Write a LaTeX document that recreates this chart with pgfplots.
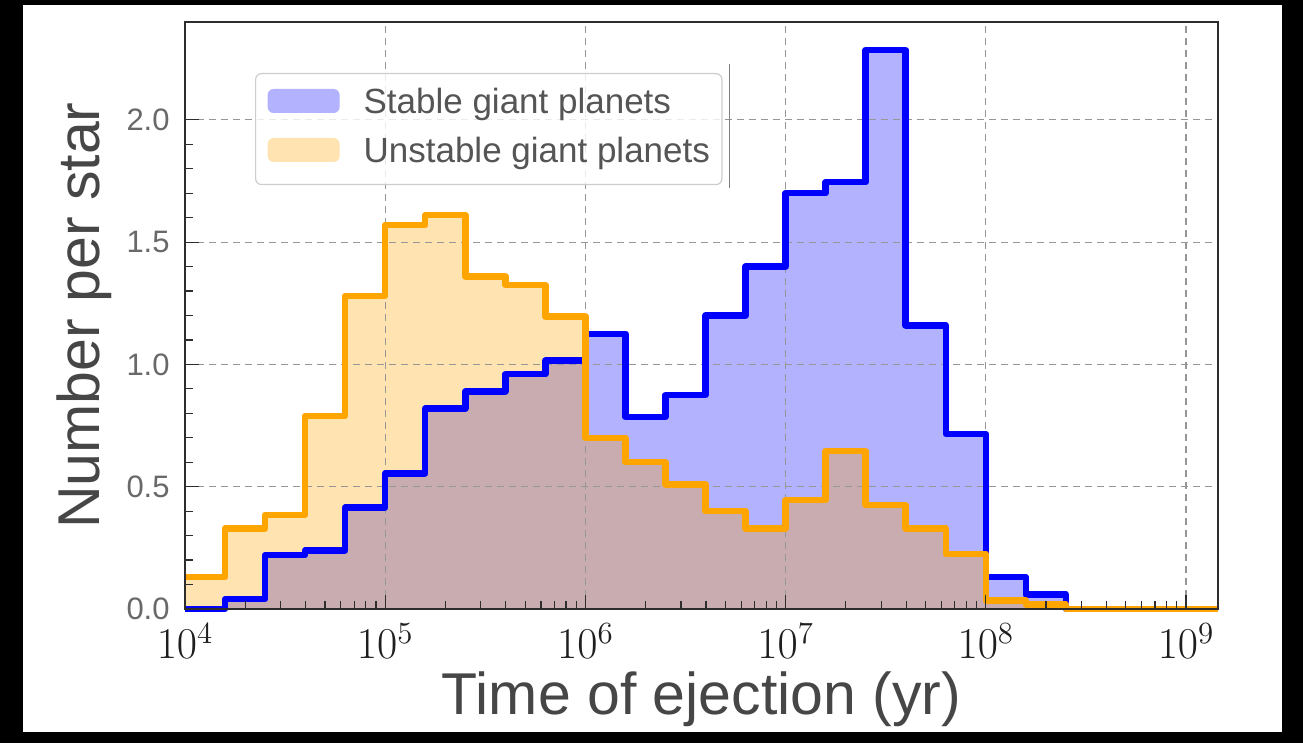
\RequirePackage{fix-cm}
\documentclass[border=0pt]{standalone}
\usepackage{fontspec}
\setmainfont{Liberation Sans}
\usepackage{pgfplots}
\pgfplotsset{compat=1.18}
\usepackage{pgfplotstable}

\definecolor{stableline}{RGB}{0,0,255}
\definecolor{stablefill}{RGB}{178,178,255}
\definecolor{unstableline}{RGB}{255,165,0}
\definecolor{unstablefill}{RGB}{255,228,178}
\definecolor{bothfill}{RGB}{201,172,176}
\definecolor{gridgray}{RGB}{150,150,150}
\definecolor{spine}{RGB}{45,45,45}
\definecolor{labeltext}{RGB}{70,70,70}
\definecolor{yticktext}{RGB}{105,105,105}
\definecolor{xticktext}{RGB}{30,30,30}
\definecolor{legendtext}{RGB}{85,85,85}
\definecolor{legendframe}{RGB}{205,205,205}

% layer order: backdrop, fills, grid, step lines, ticks and spines on top
\pgfdeclarelayer{backdrop}
\pgfplotsset{
  layers/with backdrop/.define layer set={
    backdrop,axis background,axis grid,main,axis ticks,axis lines,axis tick labels,axis descriptions,axis foreground
  }{
    grid style={/pgfplots/on layer=axis grid},
    tick style={/pgfplots/on layer=axis ticks},
    axis line style={/pgfplots/on layer=axis lines},
    label style={/pgfplots/on layer=axis descriptions},
    legend style={/pgfplots/on layer=axis descriptions},
    title style={/pgfplots/on layer=axis descriptions},
    colorbar style={/pgfplots/on layer=axis descriptions},
    ticklabel style={/pgfplots/on layer=axis tick labels},
    axis background@ style={/pgfplots/on layer=axis background},
    3d box foreground style={/pgfplots/on layer=axis foreground},
  },
}

% ejection-time histograms, bins of 0.2 dex (left edges), number per star
% both = region shared by the two histograms
\pgfplotstableread{
t           stable  unstable  both
10000       0.000   0.130     0.000
15849       0.040   0.330     0.040
25119       0.220   0.385     0.220
39811       0.240   0.790     0.240
63096       0.415   1.280     0.415
100000      0.555   1.570     0.555
158489      0.820   1.610     0.820
251189      0.890   1.360     0.890
398107      0.960   1.325     0.960
630957      1.015   1.195     1.015
1000000     1.125   0.700     0.700
1584893     0.785   0.600     0.600
2511886     0.875   0.510     0.510
3981072     1.200   0.400     0.400
6309573     1.400   0.330     0.330
10000000    1.700   0.445     0.445
15848932    1.745   0.645     0.645
25118864    2.285   0.425     0.425
39810717    1.160   0.330     0.330
63095734    0.715   0.225     0.225
100000000   0.130   0.035     0.035
158489319   0.060   0.018     0.018
251188643   0.000   0.000     0.000
398107171   0.000   0.000     0.000
630957344   0.000   0.000     0.000
1000000000  0.000   0.000     0.000
1445439771  0.000   0.000     0.000
}\hist

\begin{document}
\begin{tikzpicture}
\begin{axis}[
  set layers=with backdrop,
  scale only axis,
  width=516.5pt, height=293.5pt,
  clip=false,
  xmode=log,
  xmin=1e4, xmax=1.445e9,
  ymin=0, ymax=2.4,
  xtick={1e4,1e5,1e6,1e7,1e8,1e9},
  minor xtick={2e4,3e4,4e4,5e4,6e4,7e4,8e4,9e4,
               2e5,3e5,4e5,5e5,6e5,7e5,8e5,9e5,
               2e6,3e6,4e6,5e6,6e6,7e6,8e6,9e6,
               2e7,3e7,4e7,5e7,6e7,7e7,8e7,9e7,
               2e8,3e8,4e8,5e8,6e8,7e8,8e8,9e8},
  ytick={0,0.5,1,1.5,2},
  yticklabels={0.0,0.5,1.0,1.5,2.0},
  minor y tick num=4,
  tick pos=left,
  tick align=inside,
  major tick length=7pt,
  minor tick length=4pt,
  tick style={spine, line width=0.6pt},
  axis line style={spine, line width=1.4pt},
  grid=major,
  major grid style={gridgray, line width=0.6pt, dash pattern=on 3.5pt off 2.5pt},
  yticklabel style={font=\fontsize{15.5}{18}\selectfont, text=yticktext,
                    anchor=east, inner sep=0pt, xshift=-7.5pt},
  xticklabel style={font=\fontsize{22}{26}\selectfont, text=xticktext,
                    anchor=base, inner sep=0pt, yshift=-25pt},
  xlabel={Time of ejection (yr)},
  ylabel={Number per star},
  xlabel style={at={(rel axis cs:0.5,-0.17888)}, anchor=base, inner sep=0pt,
                font=\fontsize{29.5}{34}\selectfont, text=labeltext},
  ylabel style={at={(rel axis cs:-0.08229,0.5)}, anchor=base, inner sep=0pt,
                font=\fontsize{29.5}{34}\selectfont, text=labeltext},
  legend cell align=left,
  legend style={
    at={(rel axis cs:0.06776,0.91312)}, anchor=north west,
    draw=legendframe, line width=0.6pt, rounded corners=3pt,
    fill=white, fill opacity=0.8, text opacity=1,
    text=legendtext, font=\fontsize{17.5}{21}\selectfont,
    inner xsep=6pt, inner ysep=7.5pt, row sep=8.5pt,
    nodes={inner sep=0pt, text height=12.5pt, text depth=3.5pt},
    cells={anchor=west},
  },
]

% page backdrop
\begin{pgfonlayer}{backdrop}
  \fill[black] (rel axis cs:-0.17909,-0.22828) rectangle (rel axis cs:1.08228,1.03748);
  \fill[white] (rel axis cs:-0.15683,-0.20954) rectangle (rel axis cs:1.06196,1.02896);
\end{pgfonlayer}

% filled areas under the grid
\addplot[forget plot, const plot, draw=none, fill=stablefill, on layer=axis background]
  table[x=t, y=stable] {\hist} \closedcycle;
\addplot[forget plot, const plot, draw=none, fill=unstablefill, on layer=axis background]
  table[x=t, y=unstable] {\hist} \closedcycle;
\addplot[forget plot, const plot, draw=none, fill=bothfill, on layer=axis background]
  table[x=t, y=both] {\hist} \closedcycle;

% step outlines
\addplot[forget plot, const plot, draw=stableline, line width=3.25pt, line join=round]
  table[x=t, y=stable] {\hist};
\addplot[forget plot, const plot, draw=unstableline, line width=3.25pt, line join=round]
  table[x=t, y=unstable] {\hist};

\addlegendimage{draw=none, legend image code/.code={%
  \fill[draw=none, fill opacity=1, fill=stablefill] (0pt,-4.2pt) rectangle (36pt,7.8pt);
  \path[draw=none, fill=none] (0pt,0pt) -- (48pt,0pt);}}
\addlegendentry{Stable giant planets}
\addlegendimage{draw=none, legend image code/.code={%
  \fill[draw=none, fill opacity=1, fill=unstablefill] (0pt,-4.2pt) rectangle (36pt,7.8pt);
  \path[draw=none, fill=none] (0pt,0pt) -- (48pt,0pt);}}
\addlegendentry{Unstable giant planets}

\draw[gray, line width=0.5pt] (rel axis cs:0.52662,0.71721) -- (rel axis cs:0.52662,0.92845);
\end{axis}
\end{tikzpicture}
\end{document}
